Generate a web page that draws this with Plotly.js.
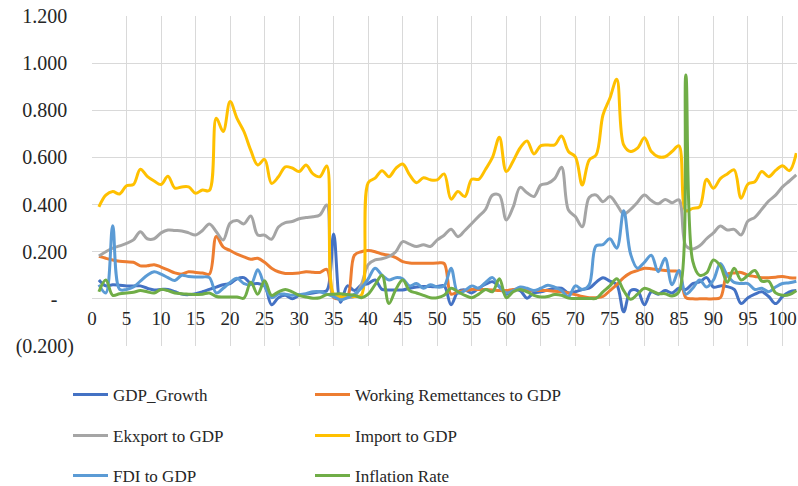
<!DOCTYPE html>
<html>
<head>
<meta charset="utf-8">
<script src="https://cdn.plot.ly/plotly-3.0.1.min.js"></script>
<style>
  html, body { margin: 0; padding: 0; background: #ffffff; }
  #chart { width: 798px; height: 486px; }
  #chart svg text { font-family: 'Liberation Serif', 'DejaVu Serif', serif !important; }
</style>
</head>
<body>
<div id="chart"></div>
<script>
const periods = [1,2,3,4,5,6,7,8,9,10,11,12,13,14,15,16,17,18,19,20,21,22,23,24,25,26,27,28,29,30,
  31,32,33,34,35,36,37,38,39,40,41,42,43,44,45,46,47,48,49,50,51,52,53,54,55,56,57,58,59,60,
  61,62,63,64,65,66,67,68,69,70,71,72,73,74,75,76,77,78,79,80,81,82,83,84,85,86,87,88,89,90,
  91,92,93,94,95,96,97,98,99,100,101,102];

const gdpGrowth = [0.08,0.055,0.06,0.058,0.055,0.055,0.055,0.045,0.038,0.04,
  0.04,0.03,0.02,0.018,0.022,0.03,0.04,0.05,0.06,0.065,
  0.085,0.09,0.065,0.065,0.055,-0.025,0.005,0.015,0.0,0.015,
  0.02,0.025,0.03,0.035,0.275,-0.015,0.055,0.035,0.058,0.065,
  0.08,0.04,0.038,0.038,0.038,0.045,0.05,0.052,0.052,0.052,
  0.055,-0.025,0.03,0.038,0.025,0.045,0.062,0.073,0.052,0.02,
  0.038,0.035,0.003,0.025,0.03,0.038,0.045,0.045,0.025,0.03,
  0.04,0.045,0.07,0.09,0.075,0.06,-0.055,0.035,0.035,-0.025,
  0.03,0.02,0.035,0.025,0.045,0.04,0.065,0.072,0.09,0.05,
  0.055,0.052,0.04,-0.02,0.005,0.02,0.03,0.01,-0.02,0.01,
  0.03,0.035];

const remittances = [0.18,0.172,0.165,0.16,0.157,0.155,0.14,0.14,0.145,0.135,
  0.123,0.11,0.105,0.115,0.112,0.11,0.105,0.265,0.22,0.205,
  0.19,0.178,0.168,0.172,0.155,0.13,0.115,0.108,0.108,0.11,
  0.115,0.113,0.112,0.125,0.005,0.0,0.01,0.185,0.2,0.205,
  0.2,0.19,0.185,0.175,0.158,0.152,0.151,0.151,0.151,0.152,
  0.15,0.02,0.03,0.035,0.04,0.04,0.04,0.038,0.035,0.035,
  0.04,0.04,0.035,0.035,0.035,0.035,0.032,0.03,0.025,0.018,
  0.01,0.005,0.005,0.01,0.035,0.06,0.09,0.11,0.12,0.13,
  0.128,0.123,0.12,0.118,0.115,0.005,0.0,0.0,0.0,0.0,
  0.005,0.105,0.11,0.112,0.1,0.095,0.09,0.09,0.092,0.095,
  0.09,0.088];

const exportGdp = [0.182,0.2,0.215,0.225,0.235,0.25,0.285,0.255,0.255,0.28,
  0.292,0.29,0.288,0.28,0.271,0.29,0.318,0.285,0.25,0.321,
  0.332,0.318,0.352,0.271,0.27,0.253,0.305,0.323,0.328,0.34,
  0.345,0.348,0.356,0.398,0.01,0.005,0.005,0.01,0.06,0.145,
  0.165,0.17,0.18,0.2,0.243,0.232,0.222,0.23,0.222,0.25,
  0.27,0.295,0.264,0.29,0.32,0.35,0.38,0.44,0.44,0.335,
  0.39,0.473,0.45,0.434,0.483,0.49,0.51,0.558,0.377,0.349,
  0.306,0.43,0.441,0.412,0.434,0.4,0.36,0.38,0.41,0.441,
  0.417,0.403,0.422,0.408,0.42,0.225,0.212,0.225,0.255,0.28,
  0.309,0.292,0.295,0.271,0.33,0.346,0.38,0.415,0.44,0.475,
  0.5,0.526];

const importGdp = [0.39,0.44,0.455,0.445,0.48,0.485,0.55,0.52,0.5,0.485,
  0.52,0.47,0.475,0.475,0.448,0.462,0.46,0.766,0.71,0.837,
  0.766,0.71,0.63,0.568,0.592,0.49,0.518,0.56,0.555,0.54,
  0.568,0.53,0.518,0.564,0.02,0.01,0.01,0.01,0.015,0.493,
  0.512,0.544,0.518,0.554,0.572,0.526,0.493,0.514,0.505,0.505,
  0.53,0.423,0.455,0.434,0.507,0.507,0.55,0.6,0.686,0.54,
  0.585,0.64,0.67,0.615,0.65,0.653,0.653,0.691,0.625,0.603,
  0.483,0.589,0.61,0.78,0.851,0.932,0.653,0.625,0.639,0.683,
  0.625,0.603,0.603,0.625,0.649,0.374,0.384,0.39,0.507,0.469,
  0.51,0.53,0.547,0.427,0.487,0.497,0.54,0.518,0.545,0.565,
  0.544,0.618];

const fdiGdp = [0.06,0.025,0.31,0.04,0.04,0.05,0.075,0.1,0.115,0.105,
  0.09,0.078,0.1,0.095,0.093,0.093,0.09,0.025,0.045,0.07,
  0.087,0.065,0.06,0.123,0.055,0.005,0.02,0.02,0.015,0.018,
  0.022,0.03,0.03,0.02,0.01,-0.005,0.005,0.02,0.045,0.085,
  0.13,0.1,0.08,0.09,0.085,0.055,0.065,0.045,0.06,0.05,
  0.055,0.13,0.025,0.035,0.055,0.045,0.07,0.09,0.05,0.025,
  0.035,0.05,0.045,0.035,0.045,0.058,0.05,0.035,0.01,0.055,
  0.04,0.06,0.225,0.23,0.255,0.215,0.374,0.19,0.13,0.155,
  0.185,0.115,0.172,0.06,0.12,0.02,0.045,0.08,0.05,0.08,
  0.15,0.1,0.07,0.065,0.065,0.04,0.045,0.03,0.05,0.065,
  0.068,0.075];

const inflation = [0.03,0.08,0.015,0.022,0.025,0.028,0.035,0.03,0.025,0.04,
  0.035,0.025,0.022,0.02,0.018,0.02,0.025,0.01,0.008,0.008,
  0.008,0.003,0.07,0.02,0.077,0.015,0.03,0.04,0.03,0.015,
  0.008,0.003,0.005,0.018,0.02,0.022,0.018,0.015,0.005,0.02,
  0.06,0.1,-0.02,0.04,0.08,0.035,0.025,0.015,0.005,0.005,
  0.015,0.045,0.03,0.015,0.005,0.02,0.04,0.03,0.085,0.005,
  0.03,0.04,0.03,0.015,0.008,0.01,0.018,0.015,0.003,0.002,
  0.002,0.002,0.002,0.03,0.055,0.085,0.035,-0.002,0.02,0.045,
  0.035,0.022,0.022,0.012,0.03,0.95,0.16,0.1,0.11,0.165,
  0.14,0.07,0.13,0.08,0.1,0.12,0.075,0.075,0.025,0.015,
  0.018,0.035];

const seriesNames = ['GDP_Growth','Working Remettances to GDP','Ekxport to GDP','Import to GDP','FDI to GDP','Inflation Rate'];
const seriesColors = ['#4472C4','#ED7D31','#A5A5A5','#FFC000','#5B9BD5','#70AD47'];
const seriesValues = [gdpGrowth, remittances, exportGdp, importGdp, fdiGdp, inflation];

const xTickVals = [0,5,10,15,20,25,30,35,40,45,50,55,60,65,70,75,80,85,90,95,100];
const xTickText = ['0','5','10','15','20','25','30','35','40','45','50','55','60','65','70','75','80','85','90','95','100'];
const yTickVals = [-0.2,0,0.2,0.4,0.6,0.8,1.0,1.2];
const yTickText = ['(0.200)','-\u2007\u2004','0.200\u2004','0.400\u2004','0.600\u2004','0.800\u2004','1.000\u2004','1.200\u2004'];

const legendIds = ['legend','legend2','legend3','legend4','legend5','legend6'];

const traces = seriesValues.map((vals, i) => ({
  type: 'scatter',
  mode: 'lines',
  x: periods,
  y: vals,
  name: seriesNames[i],
  legend: legendIds[i],
  line: {color: seriesColors[i], width: 3, shape: 'spline', smoothing: 1},
  hoverinfo: 'skip'
}));

const fontFamily = 'Liberation Serif';
const textColor = '#262626';

const layout = {
  width: 798, height: 486,
  margin: {l: 92, r: 1, t: 16, b: 140, pad: 0},
  paper_bgcolor: '#ffffff', plot_bgcolor: '#ffffff',
  font: {family: fontFamily, size: 19, color: textColor},
  showlegend: true,
  xaxis: {
    range: [0, 102.1],
    tickmode: 'array', tickvals: xTickVals, ticktext: xTickText,
    showgrid: true, gridcolor: '#d9d9d9', gridwidth: 1,
    zeroline: false, showline: false, ticks: '',
    anchor: 'free', position: 0.2/1.4,
    ticklabelstandoff: 6,
    tickfont: {family: fontFamily, size: 19, color: textColor},
    fixedrange: true
  },
  yaxis: {
    range: [-0.2, 1.2],
    tickmode: 'array', tickvals: yTickVals, ticktext: yTickText,
    showgrid: true, gridcolor: '#d9d9d9', gridwidth: 1,
    zeroline: false, showline: false, ticks: '',
    ticklabelstandoff: 17,
    tickfont: {family: fontFamily, size: 20, color: textColor},
    fixedrange: true
  }
};

// legend placement: two columns, three rows (container pixels)
const legendColX = [68, 310];
const legendRowY = [395, 436, 476];
legendIds.forEach((id, i) => {
  layout[id] = {
    orientation: 'h',
    xref: 'container', yref: 'container',
    x: legendColX[i % 2] / 798, xanchor: 'left',
    y: 1 - legendRowY[Math.floor(i / 2)] / 486, yanchor: 'middle',
    itemwidth: 35,
    bgcolor: 'rgba(0,0,0,0)', borderwidth: 0,
    font: {family: fontFamily, size: 17, color: textColor}
  };
});

Plotly.newPlot('chart', traces, layout, {displayModeBar: false, staticPlot: true});
</script>
</body>
</html>
